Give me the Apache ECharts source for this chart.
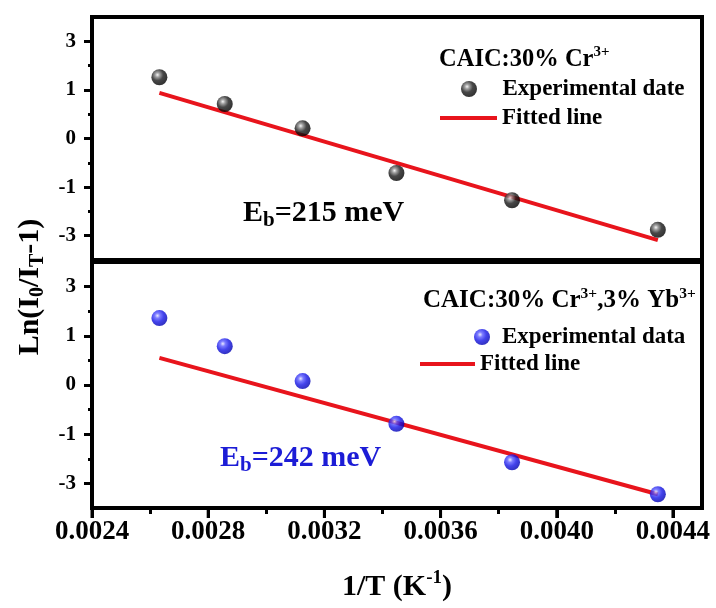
<!DOCTYPE html>
<html><head><meta charset="utf-8">
<script src="https://cdn.jsdelivr.net/npm/echarts@6/dist/echarts.min.js"></script>
<style>html,body{margin:0;padding:0;background:#fff}#c{width:716px;height:608px}</style>
</head><body><div id="c"></div>
<script>
// 1/T values (K^-1)
const invT = [0.002632, 0.002857, 0.003125, 0.003448, 0.003846, 0.004348];
// Ln(I0/IT-1), in the axis' own tick units (ticks labelled 3,1,0,-1,-3)
const lnTop = [1.26, 0.71, 0.21, -0.71, -1.27, -1.88];
const lnBottom = [1.36, 0.79, 0.08, -0.79, -1.57, -2.22];
const fitX = [0.002632, 0.004348];
const fitTop = [0.94, -2.09];
const fitBottom = [0.55, -2.22];
const xMajor = [0.0024, 0.0028, 0.0032, 0.0036, 0.0040, 0.0044];
const xMinor = [0.0026, 0.0030, 0.0034, 0.0038, 0.0042];
const yMajor = [-2, -1, 0, 1, 2];
const yTickLabels = ['-3', '-1', '0', '1', '3'];
const yMinor = [-1.5, -0.5, 0.5, 1.5];

const FF = 'Liberation Serif';
const pairs = (xs, ys) => xs.map((x, i) => [x, ys[i]]);
const blackBall = {type: 'radial', x: 0.38, y: 0.35, r: 0.65, colorStops: [
  {offset: 0, color: '#f4f4f4'}, {offset: 0.22, color: '#888'}, {offset: 0.55, color: '#1a1a1a'}, {offset: 1, color: '#000'}]};
const blueBall = {type: 'radial', x: 0.38, y: 0.35, r: 0.65, colorStops: [
  {offset: 0, color: '#e4e4ff'}, {offset: 0.25, color: '#5a5aff'}, {offset: 0.6, color: '#1414e6'}, {offset: 1, color: '#0000b4'}]};
const RED = '#e8141c';
const BLUE = '#1c1cd6';

function yAxes(gi, minor) {
  return {
    gridIndex: gi, type: 'value', min: -2.5, max: 2.5, position: 'left', offset: 0,
    axisLine: {show: false, onZero: false}, splitLine: {show: false},
    axisTick: {show: true, inside: false, length: minor ? 4 : 8, lineStyle: {color: '#000', width: 3},
      customValues: minor ? yMinor : yMajor},
    axisLabel: minor ? {show: false} : {show: true, customValues: yMajor, margin: 16,
      formatter: v => yTickLabels[yMajor.indexOf(Math.round(v))],
      color: '#000', fontFamily: FF, fontWeight: 'bold', fontSize: 21}
  };
}
// x ticks of the lower panel: a dummy first axis plus a tick-only second axis in strip grids ending on the frame's lower edge
const dummyX = gi => ({gridIndex: gi, type: 'value', min: 0.0024, max: 0.0045, position: 'bottom',
  axisLine: {show: false}, axisTick: {show: false}, axisLabel: {show: false}, splitLine: {show: false}});
const tickX = (gi, values, len) => ({
  gridIndex: gi, type: 'value', min: 0.0024, max: 0.0045, position: 'bottom',
  axisLine: {show: false, onZero: false}, splitLine: {show: false},
  axisTick: {show: true, inside: false, length: len, lineStyle: {color: '#000', width: 3}, customValues: values},
  axisLabel: {show: false}
});
const xLabelAxis = {
  gridIndex: 1, type: 'value', min: 0.0024, max: 0.0045, position: 'bottom', offset: 0,
  axisLine: {show: false, onZero: false}, splitLine: {show: false}, axisTick: {show: false},
  axisLabel: {show: true, customValues: xMajor, margin: 11,
    formatter: v => v.toFixed(4), color: '#000', fontFamily: FF, fontWeight: 'bold', fontSize: 27}
};
const hiddenX = gi => ({gridIndex: gi, type: 'value', min: 0.0024, max: 0.0045, axisLine: {show: false, onZero: false},
  axisTick: {show: false}, axisLabel: {show: false}, splitLine: {show: false}});
const legText = {color: '#000', fontFamily: FF, fontWeight: 'bold', fontSize: 23, lineHeight: 24};
const main = (s, lh) => ({fontFamily: FF, fontWeight: 'bold', fontSize: s, lineHeight: lh, verticalAlign: 'middle'});
const sup = (s, lh, c) => ({fontFamily: FF, fontWeight: 'bold', fontSize: s, lineHeight: lh, verticalAlign: 'top', fill: c || '#000'});
const sub = (s, lh, c) => ({fontFamily: FF, fontWeight: 'bold', fontSize: s, lineHeight: lh, verticalAlign: 'bottom', fill: c || '#000'});

const chart = echarts.init(document.getElementById('c'), null, {renderer: 'canvas'});
chart.setOption({
  animation: false,
  backgroundColor: '#fff',
  grid: [
    {left: 92, top: 17, width: 610, height: 243, show: true, borderColor: '#000', borderWidth: 4, backgroundColor: 'transparent'},
    {left: 92, top: 262, width: 610, height: 246, show: true, borderColor: '#000', borderWidth: 4, backgroundColor: 'transparent'},
    {left: 92, top: 490, width: 610, height: 20, show: false},
    {left: 92, top: 508, width: 610, height: 10, show: false},
    {left: 92, top: 490, width: 610, height: 20, show: false}
  ],
  xAxis: [hiddenX(0), xLabelAxis, dummyX(2), tickX(2, xMajor, 8), hiddenX(3), dummyX(4), tickX(4, xMinor, 4)],
  yAxis: [yAxes(0, false), yAxes(0, true), yAxes(1, false), yAxes(1, true),
    {gridIndex: 2, type: 'value', min: -1, max: 1, show: false},
    {gridIndex: 3, type: 'value', min: 0, max: 1, inverse: true, show: false},
    {gridIndex: 4, type: 'value', min: -1, max: 1, show: false}],
  legend: [
    {orient: 'vertical', left: 456, top: 72, itemWidth: 57, itemHeight: 16, selectedMode: false,
      textStyle: legText, data: ['Experimental date']},
    {orient: 'vertical', left: 435, top: 101, itemWidth: 57, itemHeight: 4, selectedMode: false,
      textStyle: legText, data: [{name: 'Fitted line', icon: 'rect'}]},
    {orient: 'vertical', left: 469, top: 320, itemWidth: 30, itemHeight: 16, selectedMode: false,
      textStyle: legText, data: ['Experimental data']},
    {orient: 'vertical', left: 415, top: 347, itemWidth: 55, itemHeight: 4, selectedMode: false,
      textStyle: legText, data: [{name: 'Fitted line', icon: 'rect'}]}
  ],
  series: [
    {name: 'Fitted line', type: 'line', xAxisIndex: 0, yAxisIndex: 0, data: pairs(fitX, fitTop),
      symbol: 'none', lineStyle: {color: RED, width: 4}, itemStyle: {color: RED}, z: 2},
    {name: 'Experimental date', type: 'scatter', xAxisIndex: 0, yAxisIndex: 0, data: pairs(invT, lnTop),
      symbolSize: 16, itemStyle: {color: blackBall}, z: 3},
    {name: 'Fitted line', type: 'line', xAxisIndex: 1, yAxisIndex: 2, data: pairs(fitX, fitBottom),
      symbol: 'none', lineStyle: {color: RED, width: 4}, itemStyle: {color: RED}, z: 2},
    {name: 'Experimental data', type: 'scatter', xAxisIndex: 1, yAxisIndex: 2, data: pairs(invT, lnBottom),
      symbolSize: 16, itemStyle: {color: blueBall}, z: 3},
    {name: 'x major ticks', type: 'bar', xAxisIndex: 4, yAxisIndex: 5, data: xMajor.map(x => [x, 1]),
      barWidth: 3, itemStyle: {color: '#000'}, silent: true, z: 10, clip: false}
  ],
  graphic: [
    {type: 'text', left: 439, top: 45, z: 10, style: {text: '{a|CAIC:30% Cr}{s|3+}', fill: '#000',
      rich: {a: main(24.5, 30), s: sup(15, 14)}}},
    {type: 'text', left: 423, top: 286, z: 10, style: {text: '{a|CAIC:30% Cr}{s|3+}{a|,3% Yb}{s|3+}', fill: '#000',
      rich: {a: main(25, 30), s: sup(15.5, 14)}}},
    {type: 'text', left: 243, top: 198, z: 10, style: {text: '{a|E}{b|b}{a|=215 meV}', fill: '#000',
      rich: {a: main(30, 36), b: sub(21, 17)}}},
    {type: 'text', left: 220, top: 443, z: 10, style: {text: '{a|E}{b|b}{a|=242 meV}', fill: BLUE,
      rich: {a: Object.assign(main(30, 36), {fill: BLUE}), b: sub(21, 17, BLUE)}}},
    {type: 'text', x: 30, y: 287, rotation: Math.PI / 2, z: 10, style: {text: '{a|Ln(I}{b|0}{a|/I}{b|T}{a|-1)}', fill: '#000',
      align: 'center', verticalAlign: 'middle', rich: {a: main(30, 36), b: sub(20, 16)}}},
    {type: 'text', x: 397, y: 587, z: 10, style: {text: '{a|1/T (K}{s|-1}{a|)}', fill: '#000',
      align: 'center', verticalAlign: 'middle', rich: {a: main(30, 36), s: sup(19, 18)}}}
  ]
});
</script></body></html>
